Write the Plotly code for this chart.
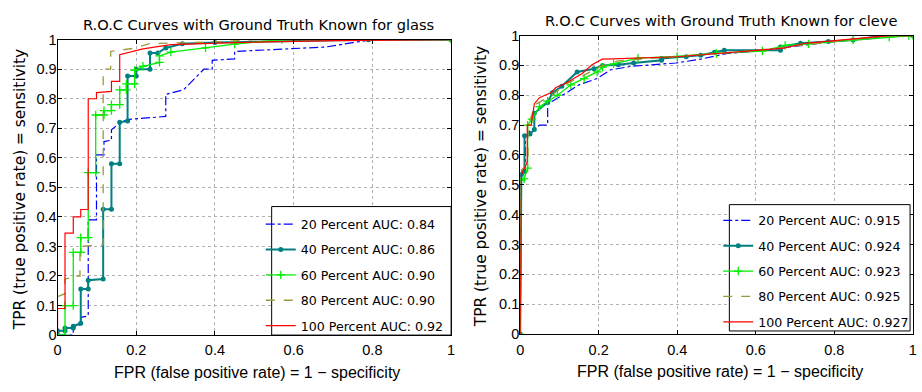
import plotly.graph_objects as go

# ---------------- data: glass (left panel) ----------------
glass_fpr_20 = [0, 0.04, 0.04, 0.059, 0.059, 0.078, 0.078, 0.099, 0.099, 0.118, 0.118, 0.137, 0.137, 0.16, 0.18, 0.275, 0.275, 0.32, 0.372, 0.393, 0.393, 0.45, 0.45, 0.59, 0.68, 0.75, 0.8, 1.0]
glass_tpr_20 = [0, 0, 0.03, 0.035, 0.06, 0.065, 0.39, 0.39, 0.61, 0.61, 0.655, 0.66, 0.695, 0.72, 0.73, 0.74, 0.815, 0.83, 0.90, 0.90, 0.93, 0.935, 0.96, 0.97, 0.975, 0.99, 1.0, 1.0]

glass_fpr_40 = [0, 0, 0.019, 0.019, 0.040, 0.040, 0.059, 0.059, 0.078, 0.078, 0.116, 0.116, 0.137, 0.137, 0.158, 0.158, 0.178, 0.178, 0.20, 0.20, 0.235, 0.235, 0.255, 0.275, 0.317, 0.40, 0.79, 1.0]
glass_tpr_40 = [0, 0.015, 0.015, 0.024, 0.024, 0.03, 0.04, 0.156, 0.156, 0.186, 0.19, 0.426, 0.426, 0.58, 0.58, 0.72, 0.725, 0.877, 0.877, 0.90, 0.90, 0.955, 0.955, 0.972, 0.986, 0.99, 1.0, 1.0]

glass_fpr_60 = [0, 0.019, 0.019, 0.040, 0.040, 0.059, 0.059, 0.078, 0.078, 0.097, 0.097, 0.118, 0.118, 0.137, 0.137, 0.158, 0.158, 0.175, 0.175, 0.196, 0.196, 0.217, 0.259, 0.259, 0.288, 0.376, 0.45, 0.57, 1.0]
glass_tpr_60 = [0, 0, 0.10, 0.10, 0.28, 0.28, 0.33, 0.33, 0.55, 0.55, 0.745, 0.745, 0.76, 0.76, 0.78, 0.78, 0.83, 0.83, 0.85, 0.85, 0.896, 0.91, 0.923, 0.945, 0.958, 0.972, 0.985, 1.0, 1.0]

glass_fpr_80 = [0, 0.019, 0.019, 0.040, 0.040, 0.057, 0.057, 0.116, 0.116, 0.135, 0.135, 0.19, 0.235, 0.40, 0.50, 1.0]
glass_tpr_80 = [0.13, 0.14, 0.19, 0.195, 0.20, 0.20, 0.30, 0.305, 0.90, 0.90, 0.96, 0.97, 0.987, 0.992, 1.0, 1.0]

glass_fpr_100 = [0, 0, 0.019, 0.019, 0.040, 0.040, 0.059, 0.059, 0.078, 0.078, 0.099, 0.099, 0.137, 0.137, 0.158, 0.158, 0.217, 0.288, 0.45, 0.703, 1.0]
glass_tpr_100 = [0, 0.09, 0.09, 0.345, 0.345, 0.40, 0.40, 0.425, 0.425, 0.80, 0.80, 0.821, 0.825, 0.859, 0.859, 0.949, 0.969, 0.983, 0.99, 0.997, 1.0]

glass_labels = ["20 Percent AUC: 0.84", "40 Percent AUC: 0.86", "60 Percent AUC: 0.90",
                "80 Percent AUC: 0.90", "100 Percent AUC: 0.92"]

# ---------------- data: cleve (right panel) ----------------
cleve_fpr_20 = [0, 0.003, 0.013, 0.013, 0.025, 0.032, 0.05, 0.07, 0.07, 0.12, 0.15, 0.196, 0.23, 0.284, 0.397, 0.46, 0.486, 0.528, 0.6, 0.7, 0.8, 0.9, 0.93, 1.0]
cleve_tpr_20 = [0, 0.54, 0.55, 0.66, 0.68, 0.685, 0.70, 0.70, 0.77, 0.81, 0.835, 0.856, 0.885, 0.897, 0.908, 0.921, 0.929, 0.94, 0.948, 0.965, 0.98, 0.99, 1.0, 1.0]

cleve_fpr_40 = [0, 0.003, 0.011, 0.011, 0.025, 0.036, 0.036, 0.07, 0.082, 0.106, 0.145, 0.188, 0.21, 0.25, 0.289, 0.36, 0.36, 0.423, 0.46, 0.495, 0.52, 0.663, 0.663, 0.714, 0.785, 0.848, 0.905, 0.907, 1.0]
cleve_tpr_40 = [0, 0.535, 0.545, 0.664, 0.67, 0.685, 0.74, 0.776, 0.808, 0.83, 0.878, 0.889, 0.90, 0.902, 0.908, 0.917, 0.923, 0.929, 0.934, 0.944, 0.951, 0.951, 0.962, 0.974, 0.98, 0.985, 0.996, 1.0, 1.0]

cleve_fpr_60 = [0, 0.003, 0.01, 0.019, 0.019, 0.03, 0.049, 0.07, 0.095, 0.129, 0.163, 0.196, 0.21, 0.238, 0.30, 0.40, 0.5, 0.617, 0.675, 0.735, 0.848, 0.94, 0.99, 1.0]
cleve_tpr_60 = [0, 0.515, 0.52, 0.556, 0.70, 0.72, 0.762, 0.78, 0.80, 0.835, 0.856, 0.878, 0.894, 0.905, 0.924, 0.93, 0.94, 0.948, 0.967, 0.972, 0.985, 0.995, 1.0, 1.0]

cleve_fpr_80 = [0, 0.003, 0.012, 0.02, 0.02, 0.04, 0.08, 0.12, 0.16, 0.2, 0.25, 0.4, 0.6, 0.8, 0.95, 1.0]
cleve_tpr_80 = [0, 0.55, 0.56, 0.58, 0.70, 0.77, 0.80, 0.84, 0.865, 0.895, 0.915, 0.93, 0.95, 0.98, 1.0, 1.0]

cleve_fpr_100 = [0, 0.003, 0.015, 0.018, 0.018, 0.028, 0.036, 0.049, 0.078, 0.091, 0.116, 0.137, 0.158, 0.183, 0.209, 0.234, 0.40, 0.579, 0.672, 0.726, 0.823, 0.94, 1.0]
cleve_tpr_100 = [0, 0.535, 0.567, 0.578, 0.70, 0.70, 0.771, 0.792, 0.808, 0.826, 0.84, 0.857, 0.873, 0.902, 0.921, 0.922, 0.929, 0.948, 0.958, 0.974, 0.985, 1.0, 1.0]

cleve_labels = ["20 Percent AUC: 0.915", "40 Percent AUC: 0.924", "60 Percent AUC: 0.923",
                "80 Percent AUC: 0.925", "100 Percent AUC: 0.927"]

axis_ticks = [0, 0.2, 0.4, 0.6, 0.8, 1]
axis_ticktext = ["0", "0.2", "0.4", "0.6", "0.8", "1"]
y_ticks = [0, 0.1, 0.2, 0.3, 0.4, 0.5, 0.6, 0.7, 0.8, 0.9, 1]
y_ticktext = ["0", "0.1", "0.2", "0.3", "0.4", "0.5", "0.6", "0.7", "0.8", "0.9", "1"]

# ---------------- styles ----------------
FONT = "Liberation Sans, Arial, Helvetica, sans-serif"
WIDE = "DejaVu Sans, Verdana, sans-serif"
styles = [
    dict(mode="lines", line=dict(color="#0000ff", width=1.2, dash="dashdot")),
    dict(mode="lines+markers", line=dict(color="#008080", width=2),
         marker=dict(symbol="circle", size=5, color="#008080")),
    dict(mode="lines+markers", line=dict(color="#00ee00", width=1.3),
         marker=dict(symbol="cross-thin", size=6, line=dict(color="#00ee00", width=1.3))),
    dict(mode="lines", line=dict(color="#9a9a3a", width=1.3, dash="dash")),
    dict(mode="lines", line=dict(color="#ff0000", width=1.2)),
]

W, H = 922, 392
fig = go.Figure()

glass = [(glass_fpr_20, glass_tpr_20), (glass_fpr_40, glass_tpr_40), (glass_fpr_60, glass_tpr_60),
         (glass_fpr_80, glass_tpr_80), (glass_fpr_100, glass_tpr_100)]
cleve = [(cleve_fpr_20, cleve_tpr_20), (cleve_fpr_40, cleve_tpr_40), (cleve_fpr_60, cleve_tpr_60),
         (cleve_fpr_80, cleve_tpr_80), (cleve_fpr_100, cleve_tpr_100)]

for i, ((fx, ty), name) in enumerate(zip(glass, glass_labels)):
    fig.add_trace(go.Scatter(x=fx, y=ty, name=name, xaxis="x", yaxis="y",
                             legend="legend", legendgroup="g%d" % i, **styles[i]))
for i, ((fx, ty), name) in enumerate(zip(cleve, cleve_labels)):
    fig.add_trace(go.Scatter(x=fx, y=ty, name=name, xaxis="x2", yaxis="y2",
                             legend="legend2", legendgroup="c%d" % i, **styles[i]))

def px_x(p):
    return p / W

def px_y(p):
    return 1 - p / H

common_axis = dict(showgrid=True, gridcolor="#b0b0b0", griddash="dot", gridwidth=1,
                   showline=True, linecolor="black", linewidth=1, mirror="ticks",
                   ticks="inside", ticklen=4, tickcolor="black", zeroline=False,
                   tickfont=dict(family=FONT, size=14.5, color="black"))

leg_common = dict(xanchor="left", yanchor="top", bgcolor="rgba(0,0,0,0)", borderwidth=0,
                  itemwidth=30, traceorder="grouped", tracegroupgap=6,
                  font=dict(family=WIDE, size=12.6, color="black"))

fig.update_layout(
    width=W, height=H, margin=dict(l=0, r=0, t=0, b=0),
    paper_bgcolor="white", plot_bgcolor="white",
    font=dict(family=FONT, color="black"),
    xaxis=dict(domain=[px_x(54), px_x(451)], range=[0, 1], tickvals=axis_ticks, ticktext=axis_ticktext,
               anchor="y", **common_axis),
    yaxis=dict(domain=[px_y(341), px_y(33)], range=[0, 1], tickvals=y_ticks, ticktext=y_ticktext,
               anchor="x", **common_axis),
    xaxis2=dict(domain=[px_x(520.7), px_x(916.7)], range=[0, 1], tickvals=axis_ticks, ticktext=axis_ticktext,
                anchor="y2", **common_axis),
    yaxis2=dict(domain=[px_y(340), px_y(28.7)], range=[0, 1], tickvals=y_ticks, ticktext=y_ticktext,
                anchor="x2", **common_axis),
    legend=dict(x=px_x(259), y=px_y(210), **leg_common),
    legend2=dict(x=px_x(720.5), y=px_y(206), **leg_common),
    showlegend=True,
)

try:
    fig.update_xaxes(ticklabelstandoff=2)
    fig.update_yaxes(ticklabelstandoff=-3)
except Exception:
    pass

# legend boxes (white fill, black frame)
fig.add_shape(type="rect", xref="paper", yref="paper", layer="above",
              x0=px_x(270), x1=px_x(451), y0=px_y(341), y1=px_y(207),
              line=dict(color="black", width=1), fillcolor="white")
fig.add_shape(type="rect", xref="paper", yref="paper", layer="above",
              x0=px_x(731.7), x1=px_x(914), y0=px_y(336.7), y1=px_y(205),
              line=dict(color="black", width=1), fillcolor="white")

ann = [
    dict(text="R.O.C Curves with Ground Truth Known for glass", x=px_x(256.5), y=px_y(17), size=14.6, angle=0, fam=WIDE),
    dict(text="R.O.C Curves with Ground Truth Known for cleve", x=px_x(723), y=px_y(13.5), size=14.6, angle=0, fam=WIDE),
    dict(text="FPR (false positive rate) = 1 \u2212 specificity", x=px_x(255), y=px_y(379.5), size=16, angle=0, fam=FONT),
    dict(text="FPR (false positive rate) = 1 \u2212 specificity", x=px_x(722), y=px_y(378.5), size=16, angle=0, fam=FONT),
    dict(text="TPR (true positive rate) = sensitivity", x=px_x(16), y=px_y(189), size=15.4, angle=-90, fam=WIDE),
    dict(text="TPR (true positive rate) = sensitivity", x=px_x(482), y=px_y(186), size=15.4, angle=-90, fam=WIDE),
]
for a in ann:
    fig.add_annotation(text=a["text"], x=a["x"], y=a["y"], xref="paper", yref="paper",
                       xanchor="center", yanchor="middle", showarrow=False, textangle=a["angle"],
                       font=dict(family=a["fam"], size=a["size"], color="black"))

fig.write_html("out.html")
